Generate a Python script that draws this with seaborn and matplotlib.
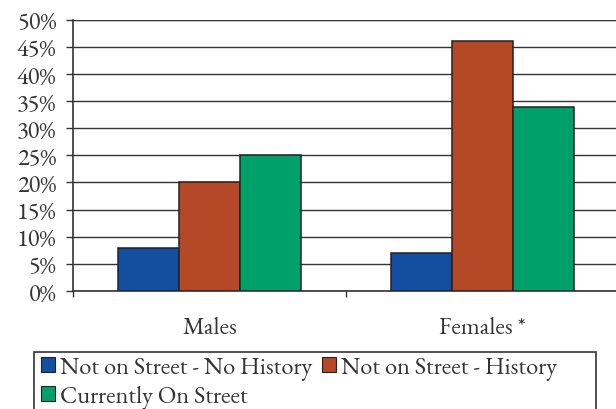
import matplotlib
matplotlib.use("Agg")
import matplotlib.pyplot as plt
from matplotlib.patches import Rectangle, Patch
from matplotlib.ticker import FixedLocator, PercentFormatter
import seaborn as sns
import pandas as pd

groups = ["Males", "Females *"]
series = ["Not on Street - No History", "Not on Street - History", "Currently On Street"]
no_history = [8, 7]
history = [20, 46]
on_street = [25, 34]
colors = ["#134EA0", "#B54827", "#00A06A"]

rows = []
for s, vals in zip(series, [no_history, history, on_street]):
    for g, v in zip(groups, vals):
        rows.append({"group": g, "series": s, "value": v})
df = pd.DataFrame(rows)

sns.set_theme(style="white")
FAM = ["EB Garamond", "Liberation Serif", "DejaVu Serif"]
plt.rcParams["font.family"] = FAM
FS = 17.5

fig = plt.figure(figsize=(6.16, 4.10), dpi=100)
ax = fig.add_axes([73/616, 1-292/410, (619-73)/616, (292-20.7)/410])

sns.barplot(data=df, x="group", y="value", hue="series", order=groups,
            hue_order=series, palette=colors, width=0.67, saturation=1,
            edgecolor="#222222", linewidth=1.1, ax=ax, legend=False, zorder=3)

ax.set_xlim(-0.5, 1.5)
ax.set_ylim(0, 50)
ax.set_yticks(range(0, 51, 5))
ax.yaxis.set_major_formatter(PercentFormatter(decimals=0))
ax.grid(axis="y", color="#333333", linewidth=1.0, zorder=0)
ax.set_axisbelow(True)
ax.set_xlabel("")
ax.set_ylabel("")

ax.spines["right"].set_visible(False)
ax.spines["top"].set_visible(False)
ax.spines["left"].set_color("#333333")
ax.spines["left"].set_linewidth(1.2)
ax.spines["bottom"].set_color("#333333")
ax.spines["bottom"].set_linewidth(1.2)
ax.axhline(50, color="#333333", linewidth=1.6, zorder=1)

ax.tick_params(axis="y", which="major", left=True, length=5, width=1,
               color="#333333", pad=7, labelsize=FS, labelcolor="#333333")
ax.tick_params(axis="x", which="major", bottom=False, pad=12,
               labelsize=FS, labelcolor="#333333")
ax.xaxis.set_minor_locator(FixedLocator([-0.5, 0.5]))
ax.tick_params(axis="x", which="minor", bottom=True, length=4.5, width=1,
               color="#333333")

# legend
handles = [Patch(facecolor=c, edgecolor="#222222", linewidth=0.8) for c in colors]
labels = series
order = [0, 2, 1]
leg = fig.legend([handles[i] for i in order], [labels[i] for i in order],
                 loc="upper left", bbox_to_anchor=(41/616, 1-357/410),
                 ncol=2, frameon=False, handlelength=0.58,
                 handleheight=0.58, handletextpad=0.2, columnspacing=0.4,
                 labelspacing=0.2, borderaxespad=0, borderpad=0,
                 prop={"family": FAM, "size": FS})
for t in leg.get_texts():
    t.set_color("#333333")
fig.patches.append(Rectangle((34/616, -0.05), (596-34)/616, (1-353/410)+0.05,
                             transform=fig.transFigure, fill=False,
                             edgecolor="#333333", linewidth=1.2))

fig.canvas.draw()
for t in ax.get_xticklabels() + ax.get_yticklabels():
    t.set_fontfamily(FAM)

fig.savefig("out.png", dpi=100)
